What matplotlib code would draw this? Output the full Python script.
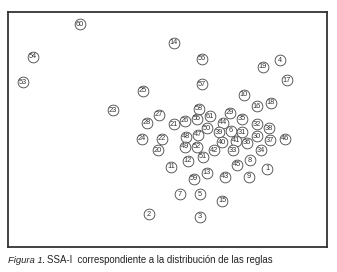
import matplotlib
matplotlib.use("Agg")
import matplotlib.pyplot as plt

# rule numbers and their position on the SSA-I map (arbitrary units)
labels = [60, 54, 53, 14, 56, 4, 19, 17, 57, 25, 10, 23, 16, 18, 58, 27, 29,
          28, 21, 26, 55, 61, 35, 44, 50, 39, 6, 31, 32, 38, 30, 37, 46, 48,
          47, 49, 52, 40, 41, 36, 42, 33, 34, 24, 22, 20, 51, 8, 45, 1, 12,
          11, 13, 59, 43, 9, 7, 5, 15, 3, 2]
x = [72, 25, 15, 166, 194, 272, 255, 279, 194, 135, 236, 105, 249, 263, 191,
     151, 222, 139, 166, 177, 189, 202, 234, 215, 199, 211, 223, 234, 249, 261,
     249, 262, 277, 178, 190, 177, 189, 214, 228, 239, 206, 225, 253, 134, 154,
     150, 195, 242, 229, 259, 180, 163, 199, 186, 217, 241, 172, 192, 214, 192,
     141]
y = [223, 190, 165, 204, 188, 187, 180, 167, 163, 156, 152, 137, 141, 144, 138,
     132, 134, 124, 123, 126, 128, 131, 128, 124, 119, 115, 116, 115, 123, 119,
     111, 107, 108, 110, 112, 100, 100, 105, 106, 104, 97, 97, 97, 108, 108,
     97, 90, 87, 82, 78, 86, 80, 74, 68, 70, 70, 53, 53, 46, 30, 33]

plt.rcParams['font.family'] = ['Liberation Sans Narrow', 'Liberation Sans', 'DejaVu Sans']

fig = plt.figure(figsize=(3.37, 2.72), dpi=100)
ax = fig.add_axes([8 / 337, 25 / 272, 319 / 337, 235 / 272])
ax.set_xlim(0, 319)
ax.set_ylim(0, 235)

ax.scatter(x, y, s=60, facecolor='white', edgecolor='#444444', linewidth=0.6, zorder=2)
for lab, xi, yi in zip(labels, x, y):
    ax.text(xi, yi, str(lab), ha='center', va='center', fontsize=5.3,
            color='#333333', zorder=3)

ax.set_xticks([])
ax.set_yticks([])
for side in ax.spines:
    ax.spines[side].set_linewidth(1.3)
    ax.spines[side].set_color('#333333')

fig.text(8 / 337, 1 - 263 / 272, 'Figura 1.', fontsize=6.8, style='italic',
         color='#222222', family=['Liberation Sans', 'DejaVu Sans'])
fig.text(47 / 337, 1 - 263 / 272, 'SSA-I  correspondiente a la distribución de las reglas',
         fontsize=6.9, color='#222222')

fig.savefig('out.png', dpi=100)
